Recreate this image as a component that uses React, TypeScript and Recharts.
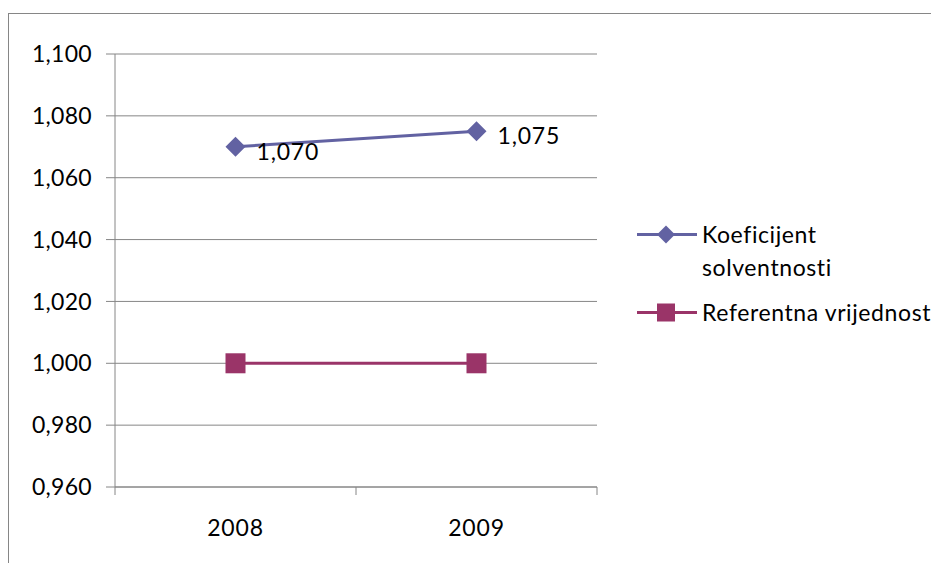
import { LineChart, Line, XAxis, YAxis, CartesianGrid, Legend, LabelList } from "recharts"

// ─── Data ──────────────────────────────────────────────────────────────────────

const years = ["2008", "2009"]
const koeficijent = [1.07, 1.075]
const referentna = [1.0, 1.0]
const yTicks = [0.96, 0.98, 1.0, 1.02, 1.04, 1.06, 1.08, 1.1]

const rows = years.map((year, i) => ({
  year,
  pos: i + 0.5,
  koef: koeficijent[i],
  ref: referentna[i],
}))

// ─── Layout / style ────────────────────────────────────────────────────────────

const FONT = "Lato, 'Open Sans', sans-serif"
const FONT_SIZE = 23
const SPACING = 0.8
const AXIS_GREY = "#868686"
const KOEF_COLOR = "#6262A2"
const REF_COLOR = "#9A3468"

const CHART_W = 930
const CHART_H = 549
const RIGHT_SPACE = 342
const LEGEND_W = 300
// the legend's width is reserved on the right by the chart itself
const MARGIN = { top: 40, right: RIGHT_SPACE - LEGEND_W, bottom: 36, left: 0 }
const Y_AXIS_W = 106
const BAND = (CHART_W - MARGIN.left - RIGHT_SPACE - Y_AXIS_W) / years.length

const fmt = (v: number) => v.toFixed(3).replace(".", ",")

// ─── Markers ───────────────────────────────────────────────────────────────────

function Diamond({ cx, cy, fill, r = 10 }: { cx: number; cy: number; fill: string; r?: number }) {
  return (
    <polygon
      points={`${cx},${cy - r} ${cx + r},${cy} ${cx},${cy + r} ${cx - r},${cy}`}
      fill={fill}
    />
  )
}

function Square({ cx, cy, fill, r = 10 }: { cx: number; cy: number; fill: string; r?: number }) {
  return <rect x={cx - r} y={cy - r} width={r * 2} height={r * 2} fill={fill} />
}

// ─── Axis ticks / labels ───────────────────────────────────────────────────────

function YearTick({ x, y, payload }: { x: number; y: number; payload: { value: number } }) {
  const label = years[payload.value]
  if (!label) return <g />
  return (
    <text
      x={x + BAND / 2}
      y={y + 32}
      textAnchor="middle"
      dominantBaseline="central"
      fontFamily={FONT}
      fontSize={FONT_SIZE}
      letterSpacing={SPACING}
      fill="#000"
    >
      {label}
    </text>
  )
}

function ValueLabel({ x, y, value }: { x?: number; y?: number; value?: number }) {
  if (x == null || y == null || value == null) return null
  return (
    <text
      x={x + 21}
      y={y + 4}
      dominantBaseline="central"
      fontFamily={FONT}
      fontSize={FONT_SIZE}
      letterSpacing={SPACING}
      fill="#000"
    >
      {fmt(Number(value))}
    </text>
  )
}

// ─── Legend ────────────────────────────────────────────────────────────────────

function LegendBox({ payload }: { payload?: { value: string; color: string; dataKey?: string }[] }) {
  if (!payload) return null
  return (
    <div style={{ display: "flex", flexDirection: "column", gap: 12 }}>
      {payload.map(entry => (
        <div key={entry.value} style={{ display: "flex", alignItems: "flex-start" }}>
          <svg width={65} height={33} style={{ flexShrink: 0 }}>
            <line x1={0} y1={16.5} x2={60} y2={16.5} stroke={entry.color} strokeWidth={3} />
            {entry.dataKey === "koef"
              ? <Diamond cx={29} cy={16.5} fill={entry.color} r={9} />
              : <Square cx={29} cy={16.5} fill={entry.color} r={9} />}
          </svg>
          <span
            style={{
              fontFamily: FONT,
              fontSize: FONT_SIZE,
              letterSpacing: 0.6,
              lineHeight: "33px",
              color: "#000",
              width: 234,
              whiteSpace: "normal",
            }}
          >
            {entry.value}
          </span>
        </div>
      ))}
    </div>
  )
}

// ─── Default export ────────────────────────────────────────────────────────────

export default function App() {
  return (
    <div
      style={{
        marginTop: 5,
        width: 931,
        height: 550,
        borderLeft: `1px solid ${AXIS_GREY}`,
        borderTop: `1px solid ${AXIS_GREY}`,
        background: "#fff",
      }}
    >
      <LineChart width={CHART_W} height={CHART_H} data={rows} margin={MARGIN}>
        <CartesianGrid vertical={false} stroke={AXIS_GREY} strokeWidth={1} />
        <XAxis
          type="number"
          dataKey="pos"
          domain={[0, years.length]}
          ticks={[0, 1, 2]}
          height={40}
          tickSize={8}
          tickMargin={0}
          axisLine={{ stroke: AXIS_GREY }}
          tickLine={{ stroke: AXIS_GREY }}
          tick={(props: any) => <YearTick key={props.index} {...props} />}
        />
        <YAxis
          type="number"
          domain={[0.96, 1.1]}
          ticks={yTicks}
          width={Y_AXIS_W}
          tickSize={9}
          tickMargin={14}
          tickFormatter={fmt}
          axisLine={{ stroke: AXIS_GREY }}
          tickLine={{ stroke: AXIS_GREY }}
          tick={{ fill: "#000", fontSize: FONT_SIZE, fontFamily: FONT, letterSpacing: 0.3 }}
          allowDataOverflow
        />
        <Legend
          layout="horizontal"
          align="right"
          verticalAlign="middle"
          wrapperStyle={{ left: 628, top: 204, width: LEGEND_W }}
          content={<LegendBox />}
        />
        <Line
          dataKey="koef"
          name="Koeficijent solventnosti"
          stroke={KOEF_COLOR}
          strokeWidth={3}
          dot={(p: any) => <Diamond key={p.index} cx={p.cx} cy={p.cy} fill={KOEF_COLOR} />}
          activeDot={false}
          isAnimationActive={false}
        >
          <LabelList dataKey="koef" content={<ValueLabel />} />
        </Line>
        <Line
          dataKey="ref"
          name="Referentna vrijednost"
          stroke={REF_COLOR}
          strokeWidth={3}
          dot={(p: any) => <Square key={p.index} cx={p.cx} cy={p.cy} fill={REF_COLOR} />}
          activeDot={false}
          isAnimationActive={false}
        />
      </LineChart>
    </div>
  )
}
